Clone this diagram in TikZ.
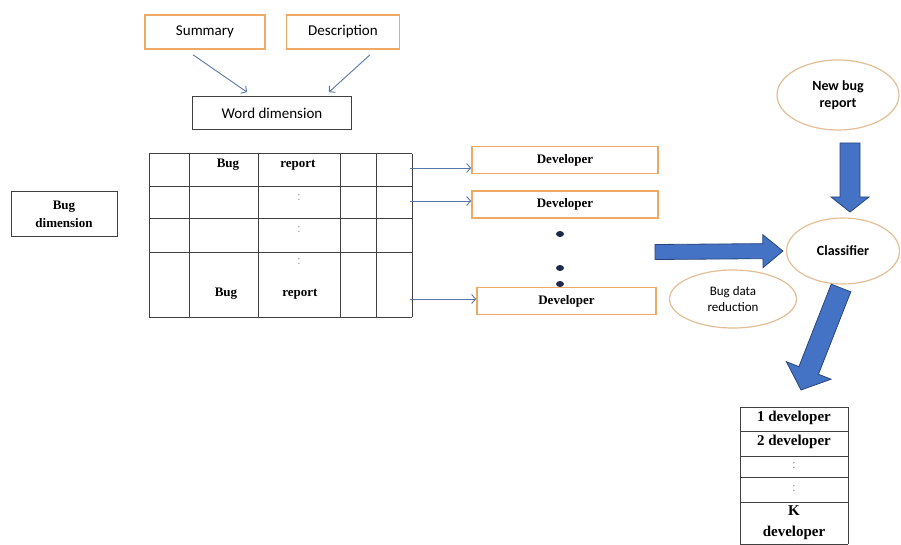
\documentclass[tikz,border=0pt]{standalone}
\usepackage{fontspec}
\setmainfont{Liberation Serif}
\newfontfamily\carlito{Carlito}
\usetikzlibrary{positioning,calc,shapes.geometric,arrows.meta}

\definecolor{boxorange}{RGB}{238,170,100}
\definecolor{ovaltan}{RGB}{226,190,150}
\definecolor{flowblue}{RGB}{88,118,168}
\definecolor{blockfill}{RGB}{68,114,196}
\definecolor{blockedge}{RGB}{40,70,125}
\definecolor{dotnavy}{RGB}{30,42,75}

% block arrow: tail, tip, half shaft width, half head width, head length
\newcommand\blockarrow[5]{%
  \path ($(#2)!#5!(#1)$) coordinate (ba-base);
  \filldraw[bigarrow] ($(#1)!#3!90:(#2)$) -- ($(ba-base)!#3!-90:(#1)$)
    -- ($(ba-base)!#4!-90:(#1)$) -- (#2) -- ($(ba-base)!#4!90:(#1)$)
    -- ($(ba-base)!#3!90:(#1)$) -- ($(#1)!#3!-90:(#2)$) -- cycle;
}

\begin{document}
\begin{tikzpicture}[x=1pt, y=-1pt,
    field/.style={draw=boxorange, line width=1.6pt, minimum height=34pt, inner sep=0pt, font=\carlito\fontsize{15}{17}\selectfont},
    plainbox/.style={draw=black!75, line width=0.8pt, inner sep=0pt},
    dev/.style={draw=boxorange, line width=1.6pt, minimum width=186pt, minimum height=27pt, inner sep=0pt, font=\bfseries\fontsize{13}{15}\selectfont},
    oval/.style={ellipse, draw=ovaltan, line width=1.2pt, inner sep=0pt, align=center, font=\carlito\bfseries\fontsize{14}{17}\selectfont},
    cell/.style={inner sep=0pt, font=\bfseries\fontsize{13}{15}\selectfont},
    gap/.style={inner sep=0pt, text=black!40, font=\fontsize{13}{15}\selectfont},
    grid/.style={draw=black!75, line width=1pt},
    flow/.style={draw=flowblue, line width=0.9pt, -{Straight Barb[length=4pt,width=9pt]}},
    bigarrow/.style={fill=blockfill, draw=blockedge, line width=0.8pt},
    dot/.style={fill=dotnavy}
]
\useasboundingbox (0,0) rectangle (901,545);

% Input fields
\node[field, minimum width=120pt] (summary) at (205,32) {Summary};
\node[field, minimum width=113pt] (description) at (343,32) {Description};
\node[plainbox, minimum width=159pt, minimum height=33pt, font=\carlito\fontsize{15}{17}\selectfont] (word) at (272,113) {Word dimension};

\draw[flow] ([xshift=-12pt,yshift=-5pt]summary.south) -- ([xshift=-25pt,yshift=4pt]word.north);
\draw[flow] ([xshift=27pt,yshift=-5pt]description.south) -- ([xshift=57pt,yshift=4pt]word.north);

% Bug dimension
\node[plainbox, minimum width=106pt, minimum height=45pt, align=center, font=\bfseries\fontsize{13}{18}\selectfont] (bugdim) at (64,214) {Bug\\dimension};

% Bug report matrix
\foreach \x in {149,189,258,340,376,412}
  \draw[grid] (\x,154) -- (\x,317);
\foreach \y in {154,187,219,252,317}
  \draw[grid] (149,\y) -- (412,\y);

\node[cell] (bug1) at (228,165) {Bug};
\node[cell] (rep1) at (298,165) {report};
\node[gap] (gap2) at (299,198) {:};
\node[gap] (gap3) at (299,230) {:};
\node[gap] (gap4) at (299,262) {:};
\node[cell] (bug4) at (226,294) {Bug};
\node[cell] (rep4) at (300,294) {report};

% Developers
\node[dev] (dev1) at (565,160) {Developer};
\node[dev] (dev2) at (565,204.5) {Developer};
\node[dev, minimum width=179pt] (dev3) at (566.5,301) {Developer};

\coordinate (row1) at (410,168);
\coordinate (row2) at (410,201);
\coordinate (row4) at (410,299);
\draw[flow] (row1) -- (row1 -| dev1.west);
\draw[flow] (row2) -- (row2 -| dev2.west);
\draw[flow] (row4) -- (row4 -| dev3.west);

\fill[dot] (560,234) ellipse (4 and 3);
\fill[dot] (560,268) ellipse (4 and 3);
\fill[dot] (560,284) ellipse (4 and 3);

% Classifier side
\node[oval, minimum width=122pt, minimum height=70pt] (newbug) at (838,95) {New bug\\report};
\node[oval, minimum width=113pt, minimum height=66pt] (classifier) at (843,251) {Classifier};
\node[oval, minimum width=127pt, minimum height=58pt, font=\carlito\fontsize{13}{16}\selectfont] (reduction) at (733,299) {Bug data\\reduction};

\coordinate (in-tail) at (655,252);
\coordinate (in-tip) at ($(classifier.west)+(-3,0)$);
\blockarrow{in-tail}{in-tip}{7.5pt}{16.5pt}{20pt}

\coordinate (new-tail) at (850,143);
\coordinate (new-tip) at (850,212);
\blockarrow{new-tail}{new-tip}{10pt}{19pt}{15pt}

\coordinate (out-tail) at (841,288);
\coordinate (out-tip) at (801,390);
\blockarrow{out-tail}{out-tip}{10.5pt}{24pt}{21pt}

% Ranked developers
\foreach \y in {407,431,456,477,502,544}
  \draw[grid] (740,\y) -- (848,\y);
\draw[grid] (740,407) -- (740,544);
\draw[grid] (848,407) -- (848,544);

\node[cell, font=\bfseries\fontsize{15}{17}\selectfont] (rank1) at (794,418) {1 developer};
\node[cell, font=\bfseries\fontsize{15}{17}\selectfont] (rank2) at (794,442) {2 developer};
\node[gap] (rank3) at (794,466) {:};
\node[gap] (rank4) at (794,489) {:};
\node[cell, font=\bfseries\fontsize{15}{17}\selectfont] (rankk) at (794,511) {K};
\node[cell, font=\bfseries\fontsize{15}{17}\selectfont] (rankkdev) at (794,533) {developer};

\end{tikzpicture}
\end{document}
